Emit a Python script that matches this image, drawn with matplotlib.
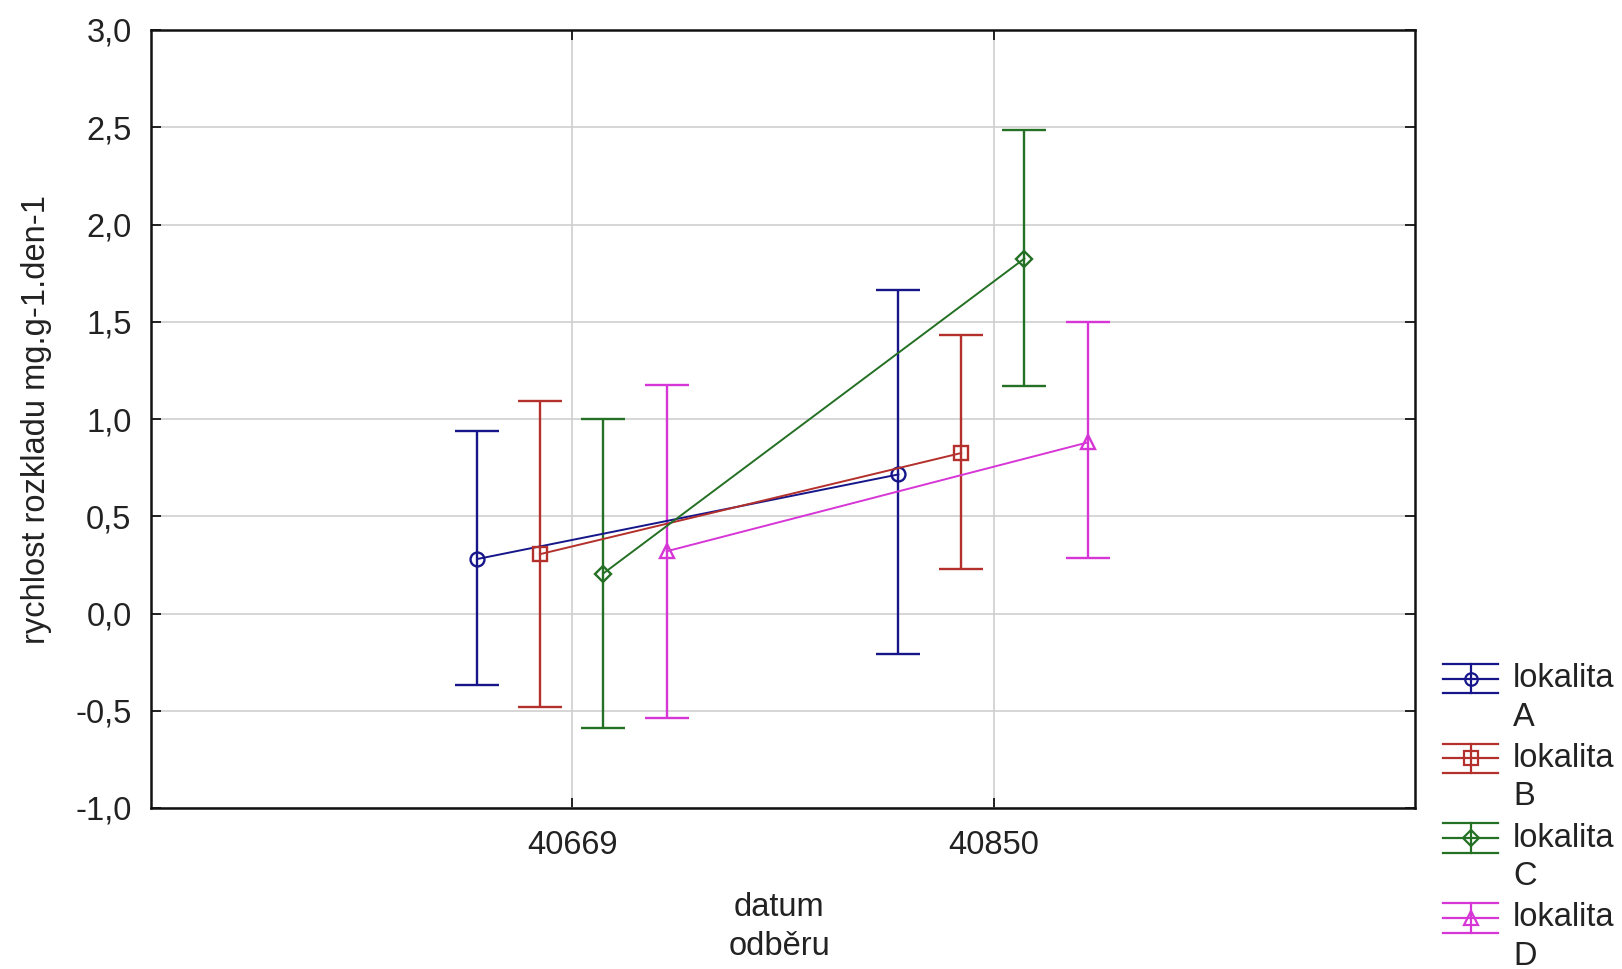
import matplotlib
matplotlib.use("Agg")
import matplotlib.pyplot as plt
from matplotlib.legend_handler import HandlerBase
from matplotlib.lines import Line2D

# ---- data ----
categories = ["40669", "40850"]
series_names = ["lokalita\nA", "lokalita\nB", "lokalita\nC", "lokalita\nD"]
mean_A = [0.28, 0.715]
mean_B = [0.305, 0.825]
mean_C = [0.205, 1.825]
mean_D = [0.32, 0.88]
low_A = [-0.37, -0.21]
low_B = [-0.48, 0.23]
low_C = [-0.59, 1.17]
low_D = [-0.535, 0.285]
up_A = [0.94, 1.665]
up_B = [1.095, 1.43]
up_C = [1.0, 2.485]
up_D = [1.175, 1.50]
ytick_values = [-1.0, -0.5, 0.0, 0.5, 1.0, 1.5, 2.0, 2.5, 3.0]
ytick_labels = ["-1,0", "-0,5", "0,0", "0,5", "1,0", "1,5", "2,0", "2,5", "3,0"]

means = [mean_A, mean_B, mean_C, mean_D]
lows = [low_A, low_B, low_C, low_D]
ups = [up_A, up_B, up_C, up_D]
colors = ["#16168a", "#b3302c", "#247024", "#d636d6"]
markers = ["o", "s", "D", "^"]
msizes = [10, 10.5, 8.5, 10.5]
offsets = [-0.226, -0.077, 0.073, 0.224]

plt.rcParams["font.family"] = ["Liberation Sans", "DejaVu Sans"]
FS = 23.5

W, H = 1622, 969
fig = plt.figure(figsize=(W / 100, H / 100), dpi=100)
L, R, T, B = 151, 1415, 30, 808
ax = fig.add_axes([L / W, 1 - B / H, (R - L) / W, (B - T) / H])

cat_pos = list(range(1, len(categories) + 1))
for i in range(4):
    xs = [p + offsets[i] for p in cat_pos]
    m = means[i]
    yerr = [[m[k] - lows[i][k] for k in range(2)], [ups[i][k] - m[k] for k in range(2)]]
    ax.errorbar(xs, m, yerr=yerr, fmt=markers[i] + "-", color=colors[i],
                mfc="none", mec=colors[i], ms=msizes[i], mew=1.7, lw=1.4,
                elinewidth=1.7, capsize=15.5, capthick=1.7, zorder=3)

ax.set_xlim(0, len(categories) + 1)
ax.set_ylim(-1.0, 3.0)
ax.set_xticks(cat_pos)
ax.set_xticklabels(categories)
ax.set_yticks(ytick_values)
ax.set_yticklabels(ytick_labels)
ax.grid(True, color="#cfcfcf", lw=1.2, zorder=0)
ax.set_axisbelow(True)
ax.tick_params(axis="both", direction="in", length=7, width=1.4, color="#222222",
               labelsize=FS, labelcolor="#222222", top=True, right=True)
ax.tick_params(axis="x", pad=16)
ax.tick_params(axis="y", pad=14)
for s in ax.spines.values():
    s.set_linewidth(1.8)
    s.set_color("#111111")

ax.set_xlabel("datum\nodběru", fontsize=FS, color="#222222", linespacing=1.32)
ax.xaxis.set_label_coords(0.497, -0.108)
ax.set_ylabel("rychlost rozkladu mg.g-1.den-1", fontsize=FS, color="#222222")
ax.yaxis.set_label_coords(-0.078, 0.5)


class StatHandler(HandlerBase):
    def create_artists(self, legend, orig_handle, xdescent, ydescent, width, height, fontsize, trans):
        c = orig_handle.get_color()
        mk = orig_handle.get_marker()
        cx = width / 2 - xdescent
        cy = height / 2 - ydescent + 0.61 * fontsize
        h = 0.45 * fontsize
        arts = []
        for yy in (cy - h, cy, cy + h):
            arts.append(Line2D([-xdescent, width - xdescent], [yy, yy], color=c, lw=1.6))
        arts.append(Line2D([cx, cx], [cy - h, cy + h], color=c, lw=1.6))
        arts.append(Line2D([cx], [cy], marker=mk, ms=orig_handle.get_markersize(),
                           mfc="none", mec=c, mew=1.6, ls="none"))
        for a in arts:
            a.set_transform(trans)
        return arts


proxies = [Line2D([], [], color=colors[i], marker=markers[i], ms=msizes[i] * 0.9) for i in range(4)]
leg = fig.legend(proxies, series_names, loc="upper left",
                 bbox_to_anchor=(1443 / W, 1 - 663 / H), frameon=False,
                 fontsize=FS, handlelength=1.7, handletextpad=0.45,
                 labelspacing=0.31, borderpad=0, borderaxespad=0,
                 handler_map={Line2D: StatHandler()})
for t in leg.get_texts():
    t.set_color("#222222")
    t.set_linespacing(1.32)

fig.savefig("out.png", dpi=100)
